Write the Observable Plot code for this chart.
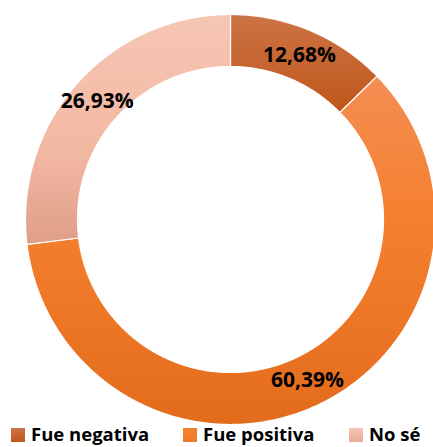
<!DOCTYPE html>
<html>
<head>
<meta charset="utf-8">
<script src="https://cdn.jsdelivr.net/npm/d3@7"></script>
<script src="https://cdn.jsdelivr.net/npm/@observablehq/plot@0.6"></script>
<style>
  body { margin: 0; background: #fff; }
  #wrap { position: relative; width: 433px; height: 447px; overflow: hidden; font-family: "Open Sans", sans-serif; }
  #wrap svg.plot { position: absolute; left: 0; top: 0; }
  .leg { position: absolute; top: 421px; height: 25px; line-height: 25px; display: flex; align-items: center; font-weight: 700; font-size: 18.5px; color: #000; white-space: nowrap; }
  .sw { width: 14px; height: 14px; margin-right: 6px; margin-top: 3px; }
</style>
</head>
<body>
<div id="wrap"></div>
<script>
// Data
const categories = ["Fue negativa", "Fue positiva", "No sé"];
const values = [12.68, 60.39, 26.93];
const labels = ["12,68%", "60,39%", "26,93%"];
const gradStops = [
  [[0, "#cc7446"], [1, "#bf561a"]],
  [[0, "#f48e54"], [0.4, "#f5802f"], [1, "#e36c1c"]],
  [[0, "#f6c6b4"], [0.6, "#f3b8a2"], [1, "#df9e88"]]
];
const legendColors = [["#cc7446", "#bf561a"], ["#f5802f", "#ef7a2a"], ["#f6c6b4", "#e8ab96"]];

const inner = 153 / 205;
const total = d3.sum(values);
let cum = 0;
const slices = categories.map((c, i) => {
  const a0 = cum / total * 2 * Math.PI;
  cum += values[i];
  const a1 = cum / total * 2 * Math.PI;
  return { c, i, a0, a1, v: values[i] };
});

function ringPoints(s) {
  const pts = [];
  const n = Math.max(8, Math.ceil((s.a1 - s.a0) / (Math.PI / 360)));
  for (let k = 0; k <= n; k++) {
    const a = s.a0 + (s.a1 - s.a0) * k / n;
    pts.push({ x: Math.sin(a), y: Math.cos(a) });
  }
  for (let k = n; k >= 0; k--) {
    const a = s.a0 + (s.a1 - s.a0) * k / n;
    pts.push({ x: inner * Math.sin(a), y: inner * Math.cos(a) });
  }
  pts.push(pts[0]);
  return pts;
}

const labelR = 0.868;
const labelData = slices.map(s => {
  const m = (s.a0 + s.a1) / 2;
  return { x: labelR * Math.sin(m), y: labelR * Math.cos(m), t: labels[s.i] };
});

const plot = Plot.plot({
  width: 433,
  height: 421,
  margin: 0,
  x: { domain: [-1, 1], range: [25, 435], axis: null },
  y: { domain: [-1, 1], range: [424, 14], axis: null },
  style: { background: "transparent", overflow: "visible" },
  marks: [
    ...slices.map(s => Plot.line(ringPoints(s), {
      x: "x", y: "y",
      fill: `url(#g${s.i})`,
      stroke: "white",
      strokeWidth: 1.2,
      curve: "linear"
    })),
    Plot.text(labelData, {
      x: "x", y: "y", text: "t",
      fontSize: 21, fontWeight: 700, fill: "#000",
      fontFamily: "Open Sans"
    })
  ]
});
plot.classList.add("plot");

// gradients
const ns = "http://www.w3.org/2000/svg";
const defs = document.createElementNS(ns, "defs");
slices.forEach(s => {
  const g = document.createElementNS(ns, "linearGradient");
  g.setAttribute("id", "g" + s.i);
  g.setAttribute("x1", "0"); g.setAttribute("y1", "0");
  g.setAttribute("x2", "0"); g.setAttribute("y2", "1");
  gradStops[s.i].forEach(([o, c]) => {
    const st = document.createElementNS(ns, "stop");
    st.setAttribute("offset", o);
    st.setAttribute("stop-color", c);
    g.appendChild(st);
  });
  defs.appendChild(g);
});
plot.insertBefore(defs, plot.firstChild);

const wrap = document.getElementById("wrap");
wrap.appendChild(plot);

// legend
const legX = [11, 183, 349];
categories.forEach((c, i) => {
  const item = document.createElement("div");
  item.className = "leg";
  item.style.left = legX[i] + "px";
  const sw = document.createElement("div");
  sw.className = "sw";
  sw.style.background = `linear-gradient(${legendColors[i][0]}, ${legendColors[i][1]})`;
  const tx = document.createElement("span");
  tx.textContent = c;
  item.appendChild(sw);
  item.appendChild(tx);
  wrap.appendChild(item);
});
</script>
</body>
</html>
